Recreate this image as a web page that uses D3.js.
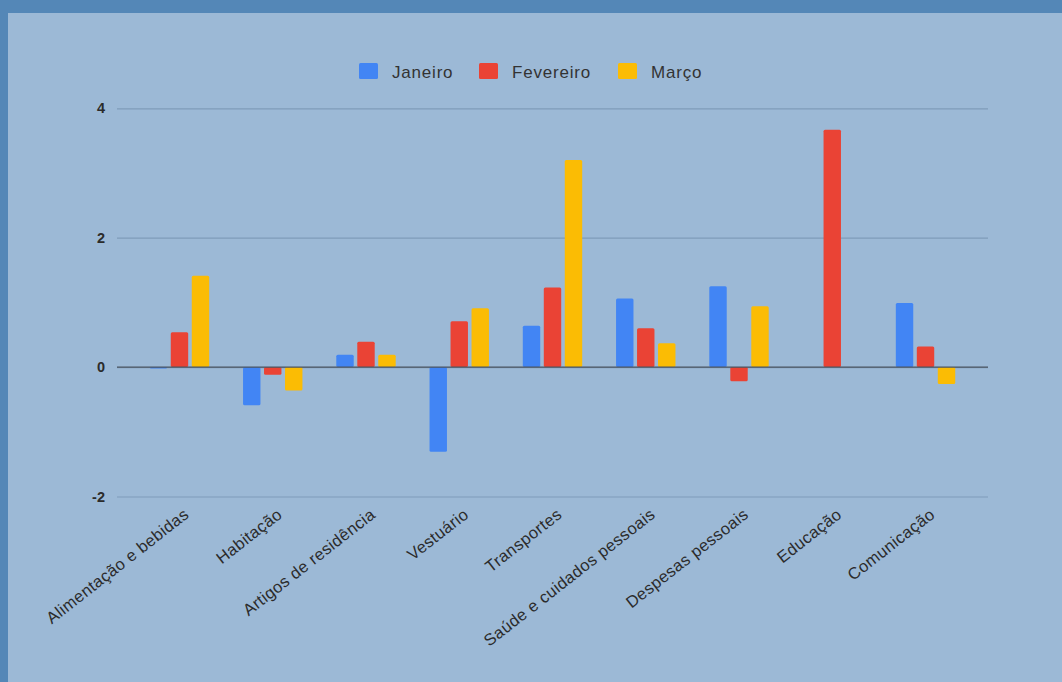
<!DOCTYPE html>
<html><head><meta charset="utf-8">
<script src="https://cdn.jsdelivr.net/npm/d3@7"></script>
<style>
html,body{margin:0;padding:0;background:#5487b7;}
svg{display:block;}
</style></head>
<body>
<svg id="c" width="1062" height="682"></svg>
<script>
const categories = ["Alimentação e bebidas","Habitação","Artigos de residência","Vestuário","Transportes","Saúde e cuidados pessoais","Despesas pessoais","Educação","Comunicação"];
const seriesNames = ["Janeiro","Fevereiro","Março"];
const janeiro   = [-0.02,-0.59,0.19,-1.31,0.64,1.06,1.25,0,0.99];
const fevereiro = [0.54,-0.12,0.39,0.71,1.23,0.60,-0.22,3.67,0.32];
const marco     = [1.41,-0.36,0.19,0.91,3.20,0.37,0.94,0,-0.26];
const seriesValues = [janeiro, fevereiro, marco];
const colors = ["#4285F4","#EA4335","#FBBC04"];
const yTicks = [-2,0,2,4];

const svg = d3.select("#c");
svg.append("rect").attr("x",0).attr("y",0).attr("width",1062).attr("height",682).attr("fill","#5487b7");
svg.append("rect").attr("x",8).attr("y",13).attr("width",1054).attr("height",669).attr("fill","#9cb9d6");

const left = 117, right = 988;
const y = d3.scaleLinear().domain([-2,4]).range([496.5,108.3]);
const x = d3.scalePoint().domain(categories).range([left,right]).padding(0.67);
const x1 = d3.scaleBand().domain(seriesNames).range([-29.7,29.7]).paddingInner(0.17);

// gridlines
const yAxis = d3.axisLeft(y).tickValues(yTicks).tickSize(-(right-left)).tickFormat(d=>String(d));
const gy = svg.append("g").attr("transform",`translate(${left},0)`).call(yAxis);
gy.select(".domain").remove();
gy.selectAll(".tick line").attr("stroke","#7f9cb9").attr("stroke-width",1.2);
gy.selectAll(".tick text").attr("x",-12).attr("fill","#2b2b2b").attr("font-family","Liberation Sans, Arial, sans-serif").attr("font-size",14.5).attr("font-weight","bold");

// bars
const groups = svg.append("g").selectAll("g").data(categories).join("g")
  .attr("transform",d=>`translate(${x(d)},0)`);
groups.selectAll("rect").data((d,i)=>seriesNames.map((s,j)=>({s,j,v:seriesValues[j][i]})))
  .join("rect")
  .attr("x",d=>x1(d.s)).attr("width",x1.bandwidth())
  .attr("y",d=>y(Math.max(0,d.v))).attr("height",d=>Math.abs(y(d.v)-y(0)))
  .attr("rx",1.5)
  .attr("fill",d=>colors[d.j]);

// zero line
svg.append("line").attr("x1",left).attr("x2",right).attr("y1",y(0)).attr("y2",y(0)).attr("stroke","#4a5560").attr("stroke-width",1.3);

// x labels
const xAxis = d3.axisBottom(x).tickSize(0);
const gx = svg.append("g").attr("transform",`translate(0,${y(-2)})`).call(xAxis);
gx.select(".domain").remove();
gx.selectAll(".tick text")
  .attr("fill","#2b2b2b").attr("font-family","Liberation Sans, Arial, sans-serif").attr("font-size",16.5)
  .attr("letter-spacing",0.4)
  .attr("text-anchor","end").attr("dy",0).attr("y",0)
  .attr("transform","translate(10,20) rotate(-38)");

// legend
const legendX = [359,479,618];
const lg = svg.append("g");
seriesNames.forEach((s,i)=>{
  lg.append("rect").attr("x",legendX[i]).attr("y",63).attr("width",19).attr("height",16).attr("rx",1.5).attr("fill",colors[i]);
  lg.append("text").attr("x",legendX[i]+33).attr("y",77.5).text(s)
    .attr("fill","#333").attr("font-family","Liberation Sans, Arial, sans-serif").attr("font-size",17)
    .attr("letter-spacing",0.8);
});
</script>
</body></html>
